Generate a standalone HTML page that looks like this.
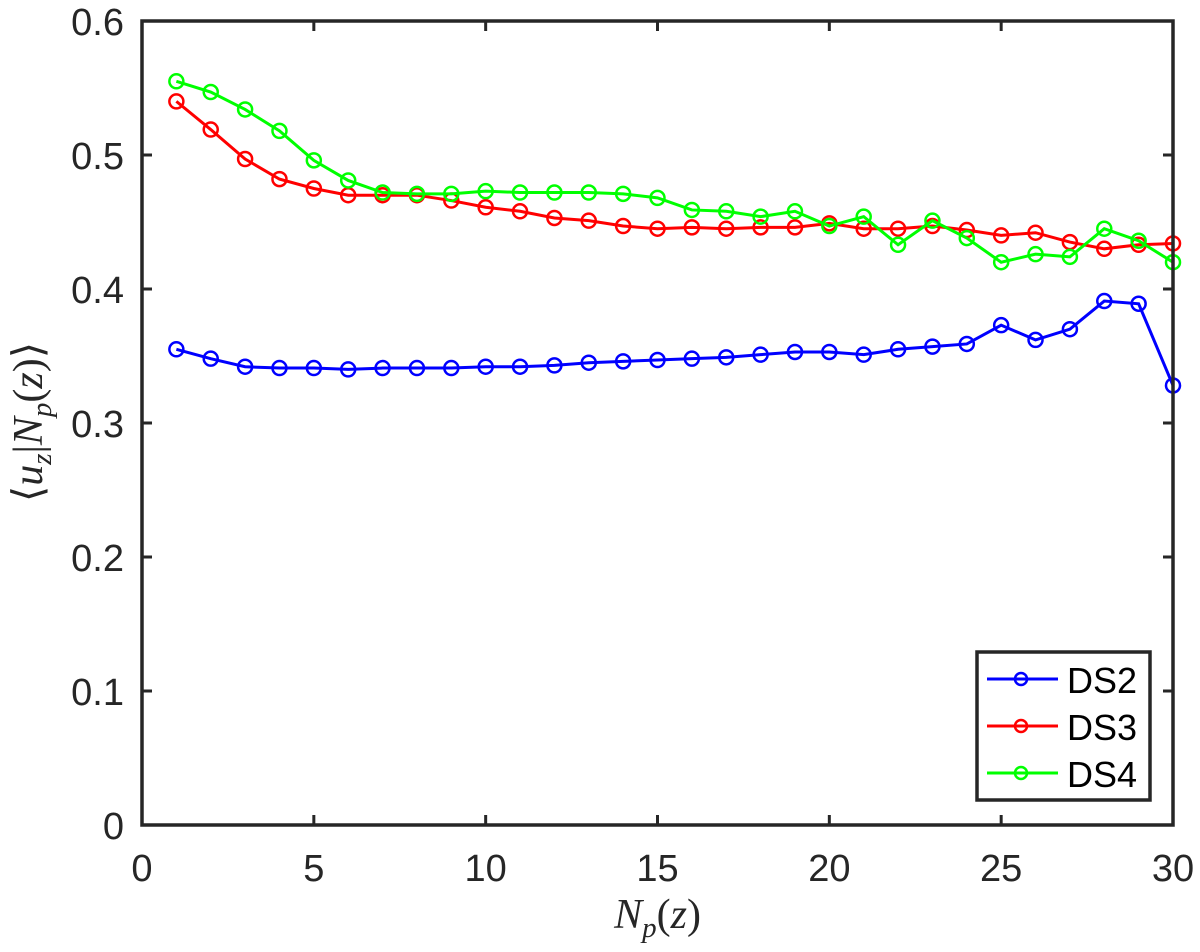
<!DOCTYPE html>
<html><head><meta charset="utf-8"><style>body{margin:0;background:#fff}svg{display:block}</style></head>
<body>
<svg id="chart" width="1200" height="952" xmlns="http://www.w3.org/2000/svg" font-family="Liberation Sans, sans-serif">
<rect x="0" y="0" width="1200" height="952" fill="#fff"/>
<g id="plot"></g>
</svg>
<script>
const xValues=[1,2,3,4,5,6,7,8,9,10,11,12,13,14,15,16,17,18,19,20,21,22,23,24,25,26,27,28,29,30];
const ds2=[0.355,0.348,0.342,0.341,0.341,0.340,0.341,0.341,0.341,0.342,0.342,0.343,0.345,0.346,0.347,0.348,0.349,0.351,0.353,0.353,0.351,0.355,0.357,0.359,0.373,0.362,0.370,0.391,0.389,0.328];
const ds3=[0.540,0.519,0.497,0.482,0.475,0.470,0.470,0.470,0.466,0.461,0.458,0.453,0.451,0.447,0.445,0.446,0.445,0.446,0.446,0.449,0.445,0.445,0.447,0.444,0.440,0.442,0.435,0.430,0.433,0.434];
const ds4=[0.555,0.547,0.534,0.518,0.496,0.481,0.472,0.471,0.471,0.473,0.472,0.472,0.472,0.471,0.468,0.459,0.458,0.454,0.458,0.447,0.454,0.433,0.451,0.438,0.420,0.426,0.424,0.445,0.436,0.420];
const xTicks=[0,5,10,15,20,25,30];
const yTicks=[0,0.1,0.2,0.3,0.4,0.5,0.6];
const yTickLabels=["0","0.1","0.2","0.3","0.4","0.5","0.6"];
const seriesNames=["DS2","DS3","DS4"];
const seriesColors=["#0000ff","#ff0000","#00ff00"];

const L=142,R=1173,T=21,B=825;
const sx=v=>L+(v-0)/30*(R-L);
const sy=v=>B-(v-0)/0.6*(B-T);
const NS="http://www.w3.org/2000/svg";
const g=document.getElementById('plot');
function mk(tag,attrs,parent){const e=document.createElementNS(NS,tag);for(const k in attrs)e.setAttribute(k,attrs[k]);(parent||g).appendChild(e);return e;}

xTicks.forEach((t,i)=>{
  const x=sx(t);
  const a=mk('line',{x1:x,x2:x,y1:B,y2:B-10,stroke:'#262626','stroke-width':3});
  
  
  const b=mk('line',{x1:x,x2:x,y1:T,y2:T+10,stroke:'#262626','stroke-width':3});
  
  
  const tx=mk('text',{x:x,y:B+56,'text-anchor':'middle','font-size':38,fill:'#262626'});
  tx.textContent=String(t);
  
  
});
yTicks.forEach((t,i)=>{
  const y=sy(t);
  const a=mk('line',{x1:L,x2:L+10,y1:y,y2:y,stroke:'#262626','stroke-width':3});
  
  
  const b=mk('line',{x1:R,x2:R-10,y1:y,y2:y,stroke:'#262626','stroke-width':3});
  
  
  const tx=mk('text',{x:L-18,y:y+14,'text-anchor':'end','font-size':38,fill:'#262626'});
  tx.textContent=yTickLabels[i];
  
  
});

[ds2,ds3,ds4].forEach((s,si)=>{
  const pts=s.map((v,i)=>sx(xValues[i])+','+sy(v)).join(' ');
  const pl=mk('polyline',{points:pts,fill:'none',stroke:seriesColors[si],'stroke-width':3});
  
  
  s.forEach((v,i)=>{
    const c=mk('circle',{cx:sx(xValues[i]),cy:sy(v),r:7,fill:'none',stroke:seriesColors[si],'stroke-width':2.5});
    
    
  });
});

const fr=mk('rect',{x:L,y:T,width:R-L,height:B-T,fill:'none',stroke:'#262626','stroke-width':3.5});



const lg=mk('g',{});


mk('rect',{x:977,y:652,width:173,height:148,fill:'#fff',stroke:'#262626','stroke-width':3.5},lg);
seriesNames.forEach((n,i)=>{
  const y=679+i*47;
  const e=mk('g',{},lg);
  
  
  mk('line',{x1:987,x2:1058,y1:y,y2:y,stroke:seriesColors[i],'stroke-width':3},e);
  mk('circle',{cx:1021,cy:y,r:6,fill:'none',stroke:seriesColors[i],'stroke-width':2.5},e);
  const t=mk('text',{x:1067,y:y+14,'font-size':36,fill:'#000'},e);
  t.textContent=n;
});

const xt=mk('text',{x:(L+R)/2,y:928,'text-anchor':'middle','font-size':42,fill:'#262626','font-family':'Liberation Serif, serif'});


xt.innerHTML='<tspan font-style="italic">N</tspan><tspan font-style="italic" font-size="29" dy="9">p</tspan><tspan dy="-9">(</tspan><tspan font-style="italic">z</tspan>)';
const yt=mk('text',{x:0,y:0,'text-anchor':'middle','font-size':42,fill:'#262626','font-family':'Liberation Serif, serif',transform:'translate(42,422) rotate(-90)'});


yt.innerHTML='⟨<tspan font-style="italic">u</tspan><tspan font-style="italic" font-size="29" dy="9">z</tspan><tspan dy="-9">|</tspan><tspan font-style="italic">N</tspan><tspan font-style="italic" font-size="29" dy="9">p</tspan><tspan dy="-9">(</tspan><tspan font-style="italic">z</tspan>)⟩';
</script>
</body></html>
